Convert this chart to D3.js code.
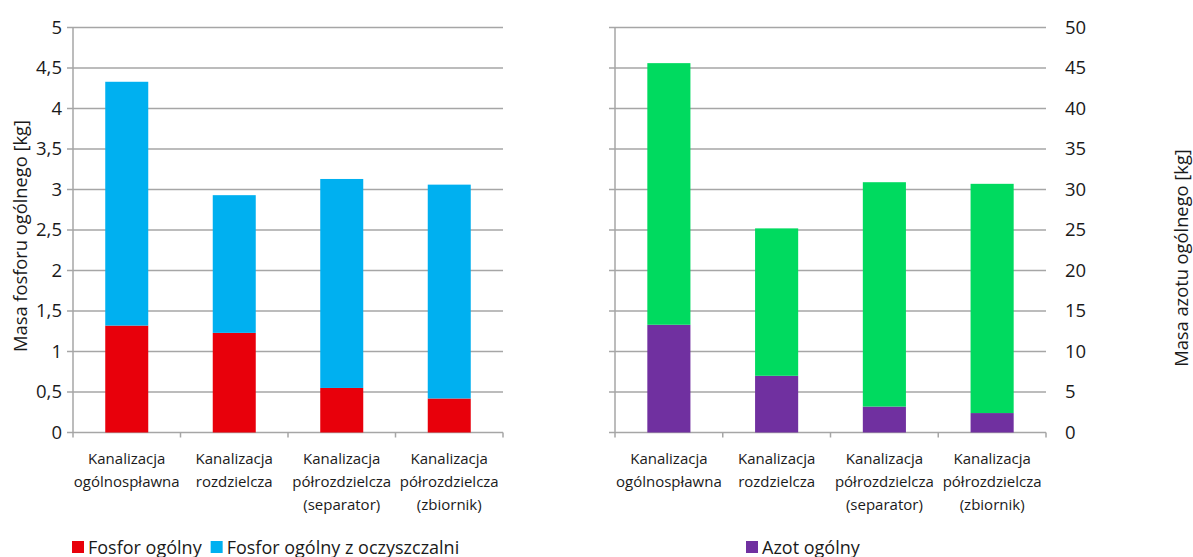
<!DOCTYPE html>
<html>
<head>
<meta charset="utf-8">
<script src="https://cdn.jsdelivr.net/npm/d3@7/dist/d3.min.js"></script>
<style>
  html, body { margin: 0; padding: 0; background: #fff; }
  svg { display: block; font-family: "Open Sans", "Noto Sans", sans-serif; }
</style>
</head>
<body>
<svg id="chart" width="1193" height="557"></svg>
<script>
// Categories shared by both panels (each label split into lines)
const categories = [
  ["Kanalizacja", "ogólnospławna"],
  ["Kanalizacja", "rozdzielcza"],
  ["Kanalizacja", "półrozdzielcza", "(separator)"],
  ["Kanalizacja", "półrozdzielcza", "(zbiornik)"]
];

// Phosphorus panel [kg]
const fosforOgolny = [1.32, 1.23, 0.55, 0.42];
const fosforZOczyszczalni = [3.01, 1.70, 2.58, 2.64];
const fosforTicks = [0, 0.5, 1, 1.5, 2, 2.5, 3, 3.5, 4, 4.5, 5];

// Nitrogen panel [kg]
const azotOgolny = [13.3, 7.0, 3.2, 2.4];
const azotZOczyszczalni = [32.3, 18.2, 27.7, 28.3];
const azotTicks = [0, 5, 10, 15, 20, 25, 30, 35, 40, 45, 50];

const colors = {
  fosfor: "#E8000B",
  fosforOcz: "#00B0F0",
  azot: "#7030A0",
  azotOcz: "#00DA5F",
  grid: "#A6A6A6",
  text: "#1a1a1a"
};

const plFormat = d3.formatLocale({ decimal: ",", thousands: " ", grouping: [3], currency: ["", " zł"] }).format("~g");

const svg = d3.select("#chart");
const plotTop = 27.5, plotBottom = 432.5;

function panel(opts) {
  const g = svg.append("g");
  const x = d3.scaleBand().domain(d3.range(categories.length)).range([opts.x0, opts.x1]).padding(0);
  const y = d3.scaleLinear().domain([0, opts.max]).range([plotBottom, plotTop]);

  // horizontal gridlines (extend left as tick marks)
  g.append("g").selectAll("line").data(opts.ticks).join("line")
    .attr("x1", opts.x0 - 6).attr("x2", opts.x1)
    .attr("y1", d => y(d)).attr("y2", d => y(d))
    .attr("stroke", colors.grid).attr("stroke-width", 1.5);

  // vertical value axis line
  g.append("line").attr("x1", opts.x0).attr("x2", opts.x0)
    .attr("y1", y(opts.max)).attr("y2", y(0))
    .attr("stroke", colors.grid).attr("stroke-width", 1.5);

  // category axis ticks at band boundaries
  const bounds = d3.range(categories.length + 1).map(i => i < categories.length ? x(i) : opts.x1);
  g.append("g").selectAll("line").data(bounds).join("line")
    .attr("x1", d => d).attr("x2", d => d)
    .attr("y1", y(0)).attr("y2", y(0) + 5)
    .attr("stroke", colors.grid).attr("stroke-width", 1.5);

  // stacked bars
  const bw = x.bandwidth() * 0.4;
  const stacks = opts.series.map((s, si) => s.values.map((v, i) => {
    const base = d3.sum(opts.series.slice(0, si), p => p.values[i]);
    return { i, y0: base, y1: base + v, color: s.color };
  })).flat();
  g.append("g").selectAll("rect").data(stacks).join("rect")
    .attr("x", d => x(d.i) + (x.bandwidth() - bw) / 2)
    .attr("width", bw)
    .attr("y", d => y(d.y1))
    .attr("height", d => y(d.y0) - y(d.y1))
    .attr("fill", d => d.color);

  // category labels
  const lab = g.append("g").selectAll("text").data(categories).join("text")
    .attr("x", (d, i) => x(i) + x.bandwidth() / 2)
    .attr("y", 464)
    .attr("text-anchor", "middle")
    .attr("font-size", "15px")
    .attr("fill", colors.text);
  lab.selectAll("tspan").data(d => d).join("tspan")
    .attr("x", function () { return this.parentNode.getAttribute("x"); })
    .attr("dy", (d, i) => i === 0 ? 0 : 23)
    .text(d => d);

  // value axis labels
  const axis = opts.side === "left"
    ? d3.axisLeft(y).tickValues(opts.ticks).tickFormat(plFormat).tickSize(0).tickPadding(11)
    : d3.axisRight(y).tickValues(opts.ticks).tickFormat(d3.format("d")).tickSize(0).tickPadding(19);
  const ax = g.append("g")
    .attr("transform", `translate(${opts.side === "left" ? opts.x0 : opts.x1},0)`)
    .call(axis);
  ax.select(".domain").remove();
  ax.selectAll("text").attr("font-size", "18.5px").attr("fill", colors.text)
    .attr("font-family", "Open Sans, sans-serif");

  // axis title
  svg.append("text")
    .attr("transform", `translate(${opts.titleX},${opts.titleY}) rotate(-90)`)
    .attr("text-anchor", "middle")
    .attr("dy", "0.35em")
    .attr("font-size", "18.3px")
    .attr("fill", colors.text)
    .text(opts.title);

  // legend
  const lg = svg.append("g");
  let lx = opts.legendX;
  opts.legend.forEach(item => {
    lg.append("rect").attr("x", lx).attr("y", 541).attr("width", 12).attr("height", 12).attr("fill", item.color);
    const t = lg.append("text").attr("x", lx + 16).attr("y", 553.5)
      .attr("font-size", "18px").attr("fill", colors.text).text(item.label);
    lx += 16 + t.node().getComputedTextLength() + 9;
  });
}

panel({
  x0: 73, x1: 503, max: 5, ticks: fosforTicks, side: "left",
  series: [
    { values: fosforOgolny, color: colors.fosfor },
    { values: fosforZOczyszczalni, color: colors.fosforOcz }
  ],
  title: "Masa fosforu ogólnego [kg]", titleX: 21, titleY: 236,
  legendX: 72,
  legend: [
    { label: "Fosfor ogólny", color: colors.fosfor },
    { label: "Fosfor ogólny z oczyszczalni", color: colors.fosforOcz }
  ]
});

panel({
  x0: 615, x1: 1046, max: 50, ticks: azotTicks, side: "right",
  series: [
    { values: azotOgolny, color: colors.azot },
    { values: azotZOczyszczalni, color: colors.azotOcz }
  ],
  title: "Masa azotu ogólnego [kg]", titleX: 1182, titleY: 258,
  legendX: 746,
  legend: [
    { label: "Azot ogólny", color: colors.azot }
  ]
});
</script>
</body>
</html>
